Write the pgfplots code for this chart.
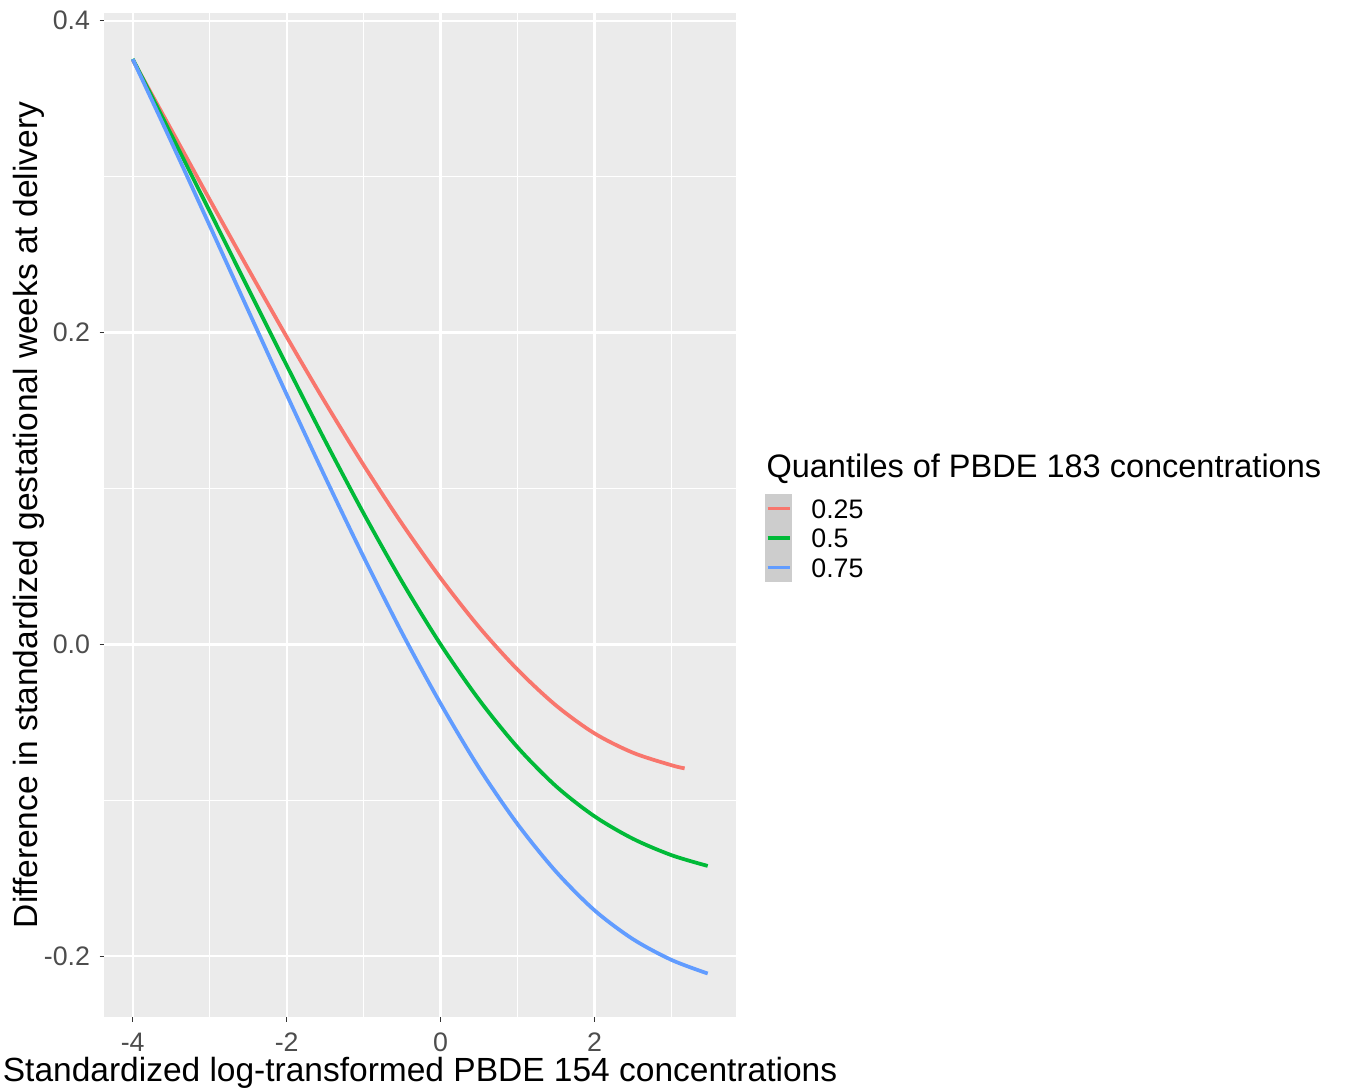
\documentclass[border=0pt]{standalone}
\usepackage{fontspec}
\setmainfont{Liberation Sans}
\usepackage{pgfplots}
\pgfplotsset{compat=1.18}
\definecolor{panel}{RGB}{235,235,235}
\definecolor{cA}{HTML}{F8766D}
\definecolor{cB}{HTML}{00BA38}
\definecolor{cC}{HTML}{619CFF}
\definecolor{keyg}{RGB}{205,205,205}
\definecolor{tickg}{RGB}{77,77,77}
\definecolor{tickm}{RGB}{51,51,51}
\begin{document}
\begin{tikzpicture}
\begin{axis}[
  at={(41.6pt,29.6pt)}, anchor=south west,
  width=252.8pt, height=401.6pt, scale only axis,
  xmin=-4.373, xmax=3.838, ymin=-0.239, ymax=0.405,
  clip mode=individual,
  axis background/.style={fill=panel},
  axis line style={draw=none},
  xtick={-4,-2,0,2}, xticklabels={-4,-2,0,2},
  ytick={-0.2,0,0.2,0.4}, yticklabels={-0.2,0.0,0.2,0.4},
  minor xtick={-3,-1,1,3}, minor ytick={-0.1,0.1,0.3},
  grid=both,
  major grid style={white, line width=0.9pt},
  minor grid style={white, line width=0.45pt},
  tick align=outside, major tick length=1.8pt, minor tick length=0pt,
  tick style={tickm, line width=0.45pt},
  xtick pos=bottom, ytick pos=left,
  ticklabel style={font=\fontsize{10.7}{12}\selectfont, text=tickg},
  xticklabel style={anchor=north, inner sep=0pt, yshift=-4.4pt},
  yticklabel style={anchor=east, inner sep=0pt, xshift=-3.6pt},
  xlabel={Standardized log-transformed PBDE 154 concentrations},
  ylabel={Difference in standardized gestational weeks at delivery},
  label style={font=\fontsize{13.4}{15}\selectfont, inner sep=0pt},
  xlabel style={at={(axis description cs:0.5,-0.0555)}, anchor=center},
  ylabel style={at={(axis description cs:-0.1195,0.5)}, anchor=center, rotate=0},
  legend cell align=left,
  legend style={at={(axis description cs:1.0459,0.5209)}, anchor=north west,
    draw=none, fill=none, inner sep=0pt, outer sep=0pt, row sep=0pt, column sep=0pt,
    font=\fontsize{10.7}{12}\selectfont, nodes={inner sep=0pt, yshift=-1pt}},
  legend image code/.code={
    \fill[fill=keyg, draw=none] (0pt,-5.86pt) rectangle (10.8pt,5.86pt);
    \draw[line width=1.3pt] (1.0pt,0pt) -- (9.8pt,0pt);
    \path (17.8pt,0pt);
  },
]
\addplot[cA, line width=1.5pt, smooth] coordinates {
(-4,0.375) (-3.5,0.3302) (-3,0.2853) (-2.5,0.2409) (-2,0.1973) (-1.5,0.1552)
(-1,0.115) (-0.5,0.0773) (0,0.0425) (0.5,0.0111) (1,-0.0162) (1.5,-0.0392)
(2,-0.0571) (2.5,-0.0695) (3,-0.0775) (3.17,-0.0795)
};
\addlegendentry{0.25}
\addplot[cB, line width=1.5pt, smooth] coordinates {
(-4,0.3755) (-3.5,0.327) (-3,0.2778) (-2.5,0.2283) (-2,0.179) (-1.5,0.1306)
(-1,0.084) (-0.5,0.0401) (0,0.0) (0.5,-0.0355) (1,-0.066) (1.5,-0.091)
(2,-0.1103) (2.5,-0.1247) (3,-0.1352) (3.47,-0.1421)
};
\addlegendentry{0.5}
\addplot[cC, line width=1.5pt, smooth] coordinates {
(-4,0.3754) (-3.5,0.3225) (-3,0.2686) (-2.5,0.2143) (-2,0.1603) (-1.5,0.1073)
(-1,0.0561) (-0.5,0.0073) (0,-0.038) (0.5,-0.0793) (1,-0.1153) (1.5,-0.1458)
(2,-0.1706) (2.5,-0.1891) (3,-0.2024) (3.47,-0.2111)
};
\addlegendentry{0.75}
\node[anchor=base west, inner sep=0pt, font=\fontsize{13}{15}\selectfont]
  at (axis description cs:1.0475,0.5378) {Quantiles of PBDE 183 concentrations};
\end{axis}
\pgfresetboundingbox
\path (0pt,0pt) rectangle (539.6pt,436.4pt);
\end{tikzpicture}
\end{document}
